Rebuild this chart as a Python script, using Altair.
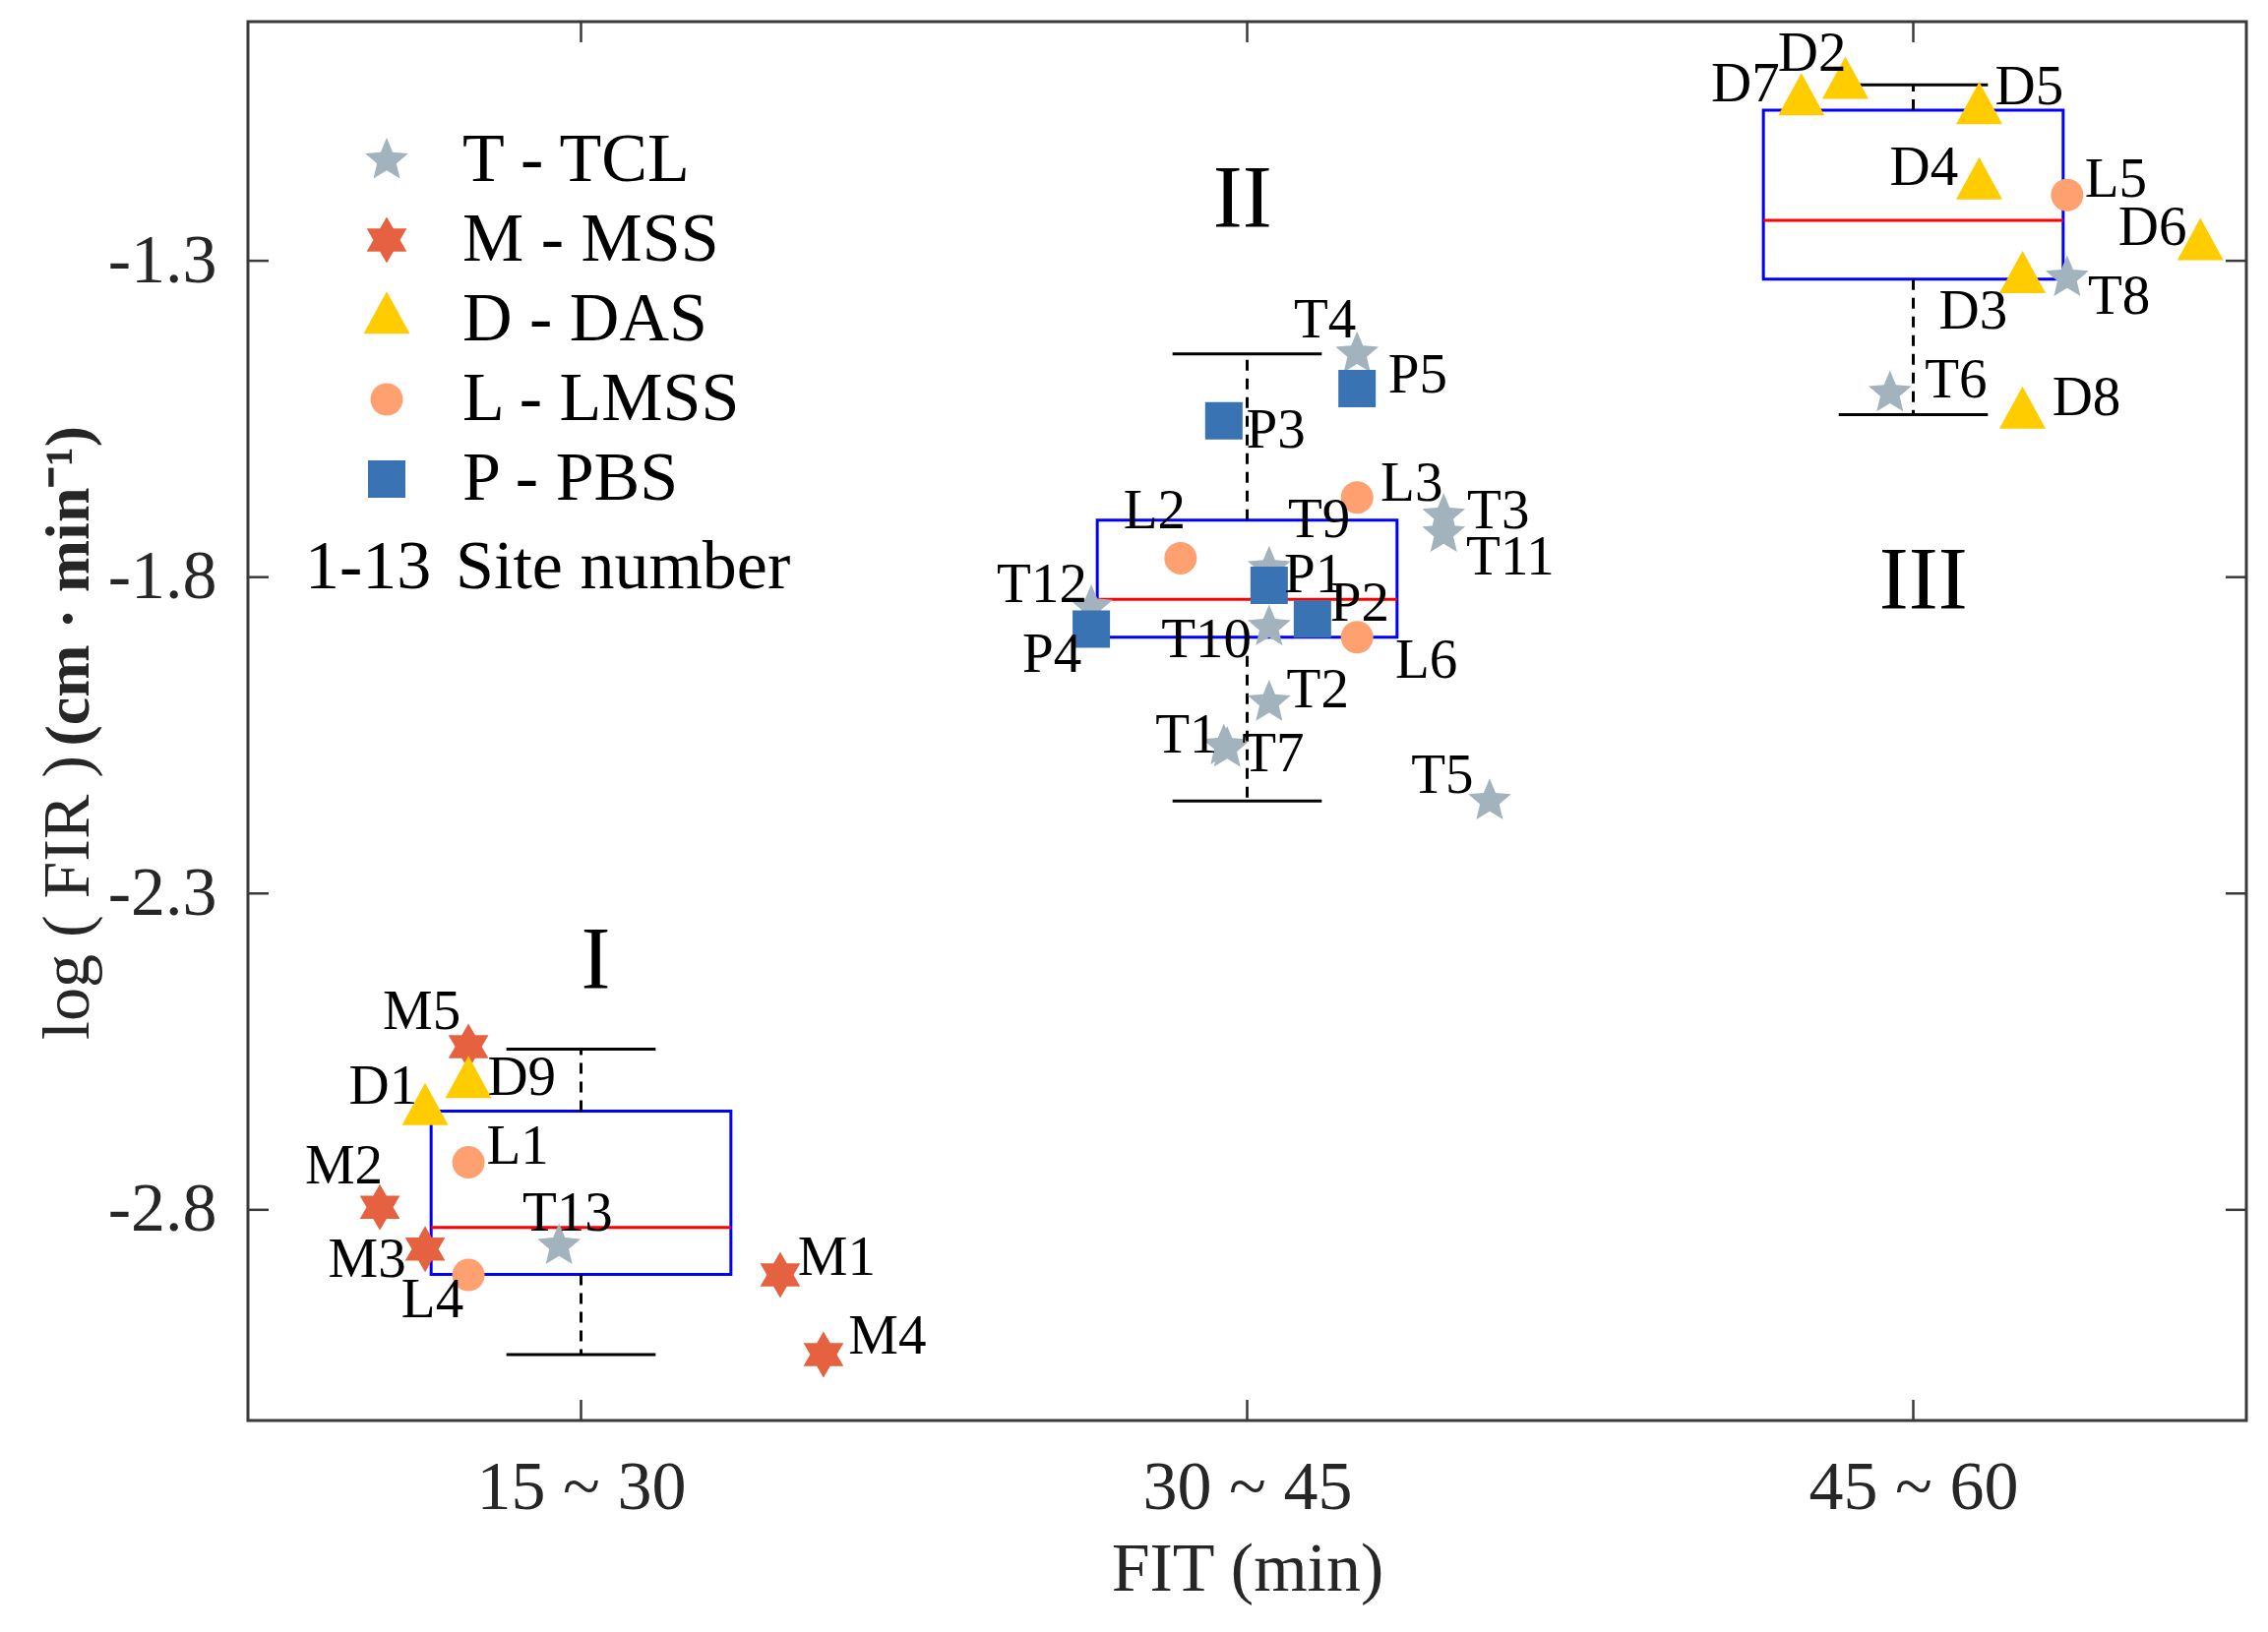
import altair as alt
import pandas as pd

# ---------------- data ----------------
group_centers = [1, 2, 3]
group_tick_labels = ["15 ~ 30", "30 ~ 45", "45 ~ 60"]
group_numerals = ["I", "II", "III"]
numeral_x = [1.022, 1.993, 3.015]
numeral_y = [-2.408, -1.205, -1.808]

box_q1 = [-2.902, -1.895, -1.329]
box_q3 = [-2.644, -1.710, -1.062]
box_median = [-2.828, -1.835, -1.236]
whisker_low = [-3.029, -2.154, -1.543]
whisker_high = [-2.546, -1.447, -1.022]

y_tick_values = [-1.3, -1.8, -2.3, -2.8]
y_tick_labels = ["-1.3", "-1.8", "-2.3", "-2.8"]

site_names = [
    "T4", "T3", "T11", "T9", "T12", "T10", "T2", "T1", "T7", "T5", "T13", "T8", "T6",
    "M5", "M2", "M3", "M1", "M4",
    "D9", "D1", "D2", "D7", "D5", "D4", "D6", "D3", "D8",
    "L1", "L4", "L3", "L2", "L6", "L5",
    "P5", "P3", "P1", "P4", "P2",
]
site_types = (["T"] * 13) + (["M"] * 5) + (["D"] * 9) + (["L"] * 6) + (["P"] * 5)
site_x = [
    2.165, 2.295, 2.295, 2.033, 1.766, 2.033, 2.033, 1.965, 1.970, 2.364, 0.967, 3.231, 2.965,
    0.831, 0.698, 0.766, 1.299, 1.364,
    0.831, 0.766, 2.898, 2.832, 3.099, 3.099, 3.431, 3.164, 3.164,
    0.831, 0.831, 2.165, 1.900, 2.165, 3.231,
    2.165, 1.965, 2.033, 1.766, 2.098,
]
site_y = [
    -1.447, -1.703, -1.731, -1.786, -1.847, -1.879, -1.998, -2.067, -2.071, -2.154, -2.857, -1.327, -1.509,
    -2.542, -2.796, -2.862, -2.903, -3.029,
    -2.601, -2.644, -1.022, -1.048, -1.062, -1.181, -1.277, -1.329, -1.543,
    -2.725, -2.903, -1.674, -1.770, -1.895, -1.196,
    -1.502, -1.553, -1.813, -1.882, -1.866,
]
label_x = [
    2.117, 2.377, 2.395, 2.108, 1.692, 1.939, 2.106, 1.909, 2.039, 2.293, 0.980, 3.309, 3.064,
    0.761, 0.644, 0.679, 1.384, 1.460,
    0.911, 0.703, 2.848, 2.748, 3.174, 3.016, 3.359, 3.090, 3.260,
    0.905, 0.777, 2.247, 1.861, 2.269, 3.304,
    2.256, 2.043, 2.100, 1.707, 2.169,
]
label_y = [
    -1.395, -1.696, -1.770, -1.710, -1.813, -1.900, -1.980, -2.051, -2.080, -2.115, -2.807, -1.358, -1.490,
    -2.487, -2.732, -2.880, -2.876, -3.001,
    -2.592, -2.606, -0.973, -1.022, -1.026, -1.153, -1.249, -1.381, -1.517,
    -2.700, -2.944, -1.653, -1.696, -1.932, -1.173,
    -1.482, -1.569, -1.797, -1.923, -1.843,
]

type_codes = ["T", "M", "D", "L", "P"]
type_legend = ["T - TCL", "M - MSS", "D - DAS", "L - LMSS", "P - PBS"]
type_colors = ["#A3B3BD", "#E6613F", "#FFCC00", "#FFA070", "#3A73B4"]

extra_legend_key = "1-13"
extra_legend_text = "Site number"
y_title_regular = "log ( FIR )"
y_title_bold = "(cm \u00b7 min\u207b\u00b9)"
x_title = "FIT (min)"

# ---------------- styles ----------------
FONT = "Liberation Serif"
STAR = ("M0,-1L0.2645,-0.364L0.951,-0.309L0.428,0.139L0.588,0.809L0,0.45"
        "L-0.588,0.809L-0.428,0.139L-0.951,-0.309L-0.2645,-0.364Z")
HEX = ("M0,-1L0.2887,-0.5L0.866,-0.5L0.577,0L0.866,0.5L0.2887,0.5L0,1"
       "L-0.2887,0.5L-0.866,0.5L-0.577,0L-0.866,-0.5L-0.2887,-0.5Z")
TRI = "M0,-1L0.819,0.498L-0.819,0.498Z"
shape_range = [STAR, HEX, TRI, "circle", "square"]
size_range = [2116, 2209, 3295, 1089, 1444]
BOX_HALF = 0.225
CAP_HALF = 0.112
W, H = 2031, 1422
TICK = 21

# ---------------- tables ----------------
legend_of = dict(zip(type_codes, type_legend))
pts = pd.DataFrame({
    "name": site_names,
    "type": site_types,
    "x": site_x,
    "y": site_y,
    "lx": label_x,
    "ly": label_y,
})
pts["legend"] = pts["type"].map(legend_of)
pts["z"] = range(len(pts))

box = pd.DataFrame({
    "center": group_centers,
    "q1": box_q1,
    "q3": box_q3,
    "median": box_median,
    "lo": whisker_low,
    "hi": whisker_high,
})
box["left"] = box["center"] - BOX_HALF
box["right"] = box["center"] + BOX_HALF
box["cl"] = box["center"] - CAP_HALF
box["cr"] = box["center"] + CAP_HALF

num = pd.DataFrame({"t": group_numerals, "x": numeral_x, "y": numeral_y})
xt = pd.DataFrame({"v": group_centers})
yt = pd.DataFrame({"v": y_tick_values})

x_label_expr = " : ".join(
    f"datum.value == {c} ? '{t}'" for c, t in zip(group_centers, group_tick_labels)
) + " : ''"
y_label_expr = " : ".join(
    f"abs(datum.value - ({v})) < 0.001 ? '{t}'" for v, t in zip(y_tick_values, y_tick_labels)
) + " : ''"

xs = alt.Scale(domain=[0.5, 3.5], nice=False, zero=False)
ys = alt.Scale(domain=[-3.133, -0.922], nice=False, zero=False)
xaxis = alt.Axis(values=group_centers, labelExpr=x_label_expr, title=x_title,
                 labelPadding=34, titlePadding=14, labelAngle=0, labelLimit=1000)
yaxis = alt.Axis(values=y_tick_values, labelExpr=y_label_expr, title=None,
                 labelPadding=32, labelLimit=1000)


def X(f):
    return alt.X(f"{f}:Q", scale=xs, axis=xaxis)


def Y(f):
    return alt.Y(f"{f}:Q", scale=ys, axis=yaxis)


base_box = alt.Chart(box)
boxes = base_box.mark_rect(fillOpacity=0, stroke="#0000FF", strokeWidth=3).encode(
    x=X("left"), x2="right", y=Y("q1"), y2="q3")
median = base_box.mark_rule(color="#FF0000", strokeWidth=3).encode(
    x=X("left"), x2="right", y=Y("median"))
wh_up = base_box.mark_rule(color="black", strokeWidth=3, strokeDash=[11, 8]).encode(
    x=X("center"), y=Y("q3"), y2="hi")
wh_dn = base_box.mark_rule(color="black", strokeWidth=3, strokeDash=[11, 8]).encode(
    x=X("center"), y=Y("q1"), y2="lo")
cap_up = base_box.mark_rule(color="black", strokeWidth=3).encode(
    x=X("cl"), x2="cr", y=Y("hi"))
cap_dn = base_box.mark_rule(color="black", strokeWidth=3).encode(
    x=X("cl"), x2="cr", y=Y("lo"))

leg = alt.Legend(orient="none", legendX=106, legendY=106, title=None,
                 labelFont=FONT, labelFontSize=70, labelColor="black", labelLimit=1000,
                 rowPadding=11, labelOffset=42, padding=0,
                 symbolStrokeWidth=0, symbolOpacity=1)
points = alt.Chart(pts).mark_point(filled=True, opacity=1, strokeWidth=0).encode(
    x=X("x"), y=Y("y"),
    shape=alt.Shape("legend:N", scale=alt.Scale(domain=type_legend, range=shape_range), legend=leg),
    color=alt.Color("legend:N", scale=alt.Scale(domain=type_legend, range=type_colors), legend=leg),
    size=alt.Size("legend:N", scale=alt.Scale(type="ordinal", domain=type_legend, range=size_range), legend=leg),
    order=alt.Order("z:Q"),
)
labels = alt.Chart(pts).mark_text(font=FONT, fontSize=57, color="black",
                                  align="center", baseline="middle").encode(
    x=X("lx"), y=Y("ly"), text="name:N")
numerals = alt.Chart(num).mark_text(font=FONT, fontSize=90, color="black",
                                    align="center", baseline="middle").encode(
    x=X("x"), y=Y("y"), text="t:N")

tick_style = dict(color="#3a3a3a", strokeWidth=2.5)
tx_b = alt.Chart(xt).mark_rule(**tick_style).encode(x=X("v"), y=alt.value(H), y2=alt.value(H - TICK))
tx_t = alt.Chart(xt).mark_rule(**tick_style).encode(x=X("v"), y=alt.value(0), y2=alt.value(TICK))
ty_l = alt.Chart(yt).mark_rule(**tick_style).encode(y=Y("v"), x=alt.value(0), x2=alt.value(TICK))
ty_r = alt.Chart(yt).mark_rule(**tick_style).encode(y=Y("v"), x=alt.value(W), x2=alt.value(W - TICK))

extra1 = alt.Chart(pd.DataFrame({"t": [extra_legend_key]})).mark_text(
    font=FONT, fontSize=70, color="black", align="left", baseline="alphabetic").encode(
    x=alt.value(58), y=alt.value(576), text="t:N")
extra2 = alt.Chart(pd.DataFrame({"t": [extra_legend_text]})).mark_text(
    font=FONT, fontSize=70, color="black", align="left", baseline="alphabetic").encode(
    x=alt.value(211), y=alt.value(576), text="t:N")

ytitle1 = alt.Chart(pd.DataFrame({"t": [y_title_regular]})).mark_text(
    font=FONT, fontSize=68, color="#262626", align="left", baseline="alphabetic", angle=270).encode(
    x=alt.value(-162), y=alt.value(1035), text="t:N")
ytitle2 = alt.Chart(pd.DataFrame({"t": [y_title_bold]})).mark_text(
    font=FONT, fontSize=64, fontWeight="bold", color="#262626", align="right",
    baseline="alphabetic", angle=270).encode(
    x=alt.value(-162), y=alt.value(411), text="t:N")

chart = alt.layer(
    boxes, median, wh_up, wh_dn, cap_up, cap_dn,
    points, labels, numerals,
    tx_b, tx_t, ty_l, ty_r,
    extra1, extra2, ytitle1, ytitle2,
).properties(
    width=W, height=H,
    autosize=alt.AutoSizeParams(type="none"),
    padding={"left": 244, "top": 14, "right": 10, "bottom": 200},
    background="white",
).configure_view(
    stroke="#3a3a3a", strokeWidth=3
).configure_axis(
    labelFont=FONT, labelFontSize=70, labelColor="#262626",
    titleFont=FONT, titleFontSize=70, titleColor="#262626", titleFontWeight="normal",
    grid=False, domain=False, ticks=False, tickSize=0,
)

chart.save("out.html", embed_options={"renderer": "svg", "actions": False})
